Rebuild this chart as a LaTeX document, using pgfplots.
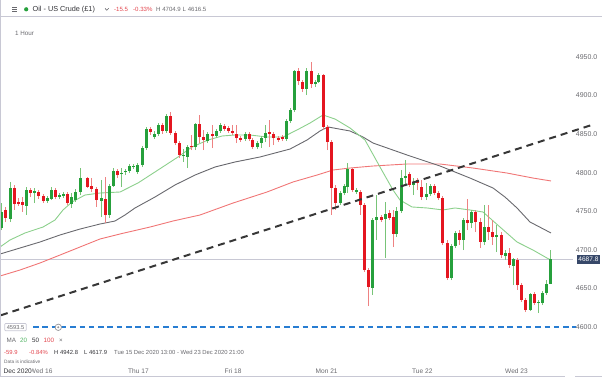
\documentclass[border=0pt]{standalone}
\usepackage{pgfplots}
\pgfplotsset{compat=1.18}
\usepackage{pgfplotstable}
\usepackage{fontspec}
\setmainfont{Liberation Sans}

\definecolor{cgreen}{RGB}{38,160,60}
\definecolor{cgreenw}{RGB}{120,196,120}
\definecolor{cred}{RGB}{228,22,32}
\definecolor{credw}{RGB}{238,130,130}
\definecolor{ma20}{RGB}{140,208,140}
\definecolor{ma50}{RGB}{105,105,110}
\definecolor{ma100}{RGB}{240,118,118}
\definecolor{trend}{RGB}{55,55,55}
\definecolor{bluel}{RGB}{40,125,210}
\definecolor{pricebg}{RGB}{55,72,105}
\definecolor{lbl}{RGB}{105,105,110}
\definecolor{bord}{RGB}{200,200,212}
\definecolor{redtxt}{RGB}{226,70,78}
\definecolor{dark}{RGB}{50,50,55}

% green candles: x open high low close
\pgfplotstableread{
x o h l c
1.5 4728.3 4760.7 4725.7 4749.1
10.5 4740.0 4788.0 4736.1 4780.2
26.5 4756.9 4781.5 4745.2 4777.6
34.5 4773.7 4780.2 4760.7 4776.3
47.5 4763.3 4769.8 4760.7 4767.2
51 4765.9 4781.5 4764.6 4777.6
59 4768.5 4773.7 4765.9 4771.1
63.5 4769.8 4775.0 4767.2 4772.4
71.5 4759.4 4773.7 4754.3 4768.5
75.5 4764.6 4778.9 4762.0 4775.0
80 4775.0 4806.1 4771.1 4793.1
101 4763.3 4790.6 4742.6 4767.2
109 4745.2 4785.4 4741.3 4782.8
113.5 4782.8 4806.1 4781.5 4802.2
121 4798.3 4806.1 4781.5 4799.6
125.5 4800.9 4804.8 4797.0 4802.2
129.5 4802.2 4811.3 4799.6 4808.7
133.5 4807.4 4811.3 4805.0 4808.7
137.5 4800.9 4812.6 4798.3 4810.0
142.5 4810.0 4834.6 4807.4 4832.0
146 4832.0 4859.3 4829.4 4856.7
154 4846.3 4854.1 4843.7 4850.2
158.5 4850.2 4864.4 4847.6 4861.9
166.5 4854.1 4876.1 4851.5 4873.5
183 4821.2 4830.7 4813.9 4822.6
187 4820.4 4835.9 4806.1 4833.3
195.5 4833.3 4864.4 4829.4 4863.2
207.5 4841.1 4852.8 4838.5 4850.2
216 4847.6 4856.7 4845.0 4854.1
220.5 4854.1 4864.4 4851.5 4861.9
245 4843.7 4852.8 4841.1 4850.2
257.5 4833.3 4841.1 4830.7 4838.5
261.5 4838.5 4847.6 4832.0 4845.0
265 4845.0 4861.9 4839.8 4851.5
286 4843.7 4869.6 4841.1 4867.0
290 4867.0 4883.9 4864.4 4881.3
294.5 4881.3 4933.1 4878.7 4931.9
306.5 4908.5 4935.7 4900.7 4931.9
315 4915.0 4920.2 4911.1 4917.6
318.5 4917.6 4929.3 4916.3 4926.7
340 4760.7 4776.3 4758.1 4773.7
344 4773.7 4785.4 4771.1 4782.8
347.5 4781.5 4812.6 4773.7 4804.8
356.5 4775.0 4780.2 4772.4 4777.6
372.5 4650.6 4741.3 4641.5 4738.7
376.5 4738.7 4771.1 4712.8 4742.6
385 4740.0 4762.0 4689.4 4746.5
396.5 4720.6 4755.6 4716.7 4750.4
401 4750.4 4803.5 4747.8 4793.1
405 4793.1 4816.5 4784.1 4795.7
413.5 4784.1 4793.1 4771.1 4788.0
426.5 4768.5 4786.7 4764.6 4772.4
430.5 4772.4 4785.4 4769.8 4782.8
451.5 4663.5 4707.6 4660.9 4705.0
455 4705.0 4724.4 4702.4 4721.9
463.5 4712.8 4741.3 4699.8 4738.7
471.5 4734.8 4751.7 4728.3 4749.1
484 4710.2 4758.1 4706.3 4729.6
496.5 4716.7 4732.2 4697.2 4719.3
505 4692.0 4699.8 4686.9 4695.9
513.5 4679.1 4689.4 4654.4 4688.1
530 4622.0 4644.1 4620.7 4642.8
538.5 4631.1 4635.0 4618.1 4632.4
542.5 4631.1 4646.7 4628.5 4644.1
546.5 4644.1 4660.9 4641.5 4655.7
550.5 4655.7 4699.8 4655.7 4687.8
}\greentab

% red candles: x open high low close
\pgfplotstableread{
x o h l c
5.5 4751.7 4755.6 4736.1 4741.3
14 4780.2 4784.1 4751.7 4759.4
18.5 4762.0 4767.2 4756.9 4759.4
22.5 4762.0 4768.5 4749.1 4758.1
30.5 4777.6 4780.2 4768.5 4773.7
38.5 4775.0 4777.6 4765.9 4769.8
43.5 4769.8 4772.4 4760.7 4763.3
55 4777.6 4780.2 4765.9 4768.5
67.5 4772.4 4775.0 4758.1 4760.7
87.5 4793.1 4794.4 4780.2 4781.5
91.5 4782.8 4793.1 4775.0 4778.9
96.5 4778.9 4781.5 4755.6 4764.6
105 4765.9 4794.4 4734.8 4745.2
117.5 4802.2 4804.8 4793.1 4797.0
150 4856.7 4859.3 4848.9 4852.8
162.5 4861.9 4864.4 4850.2 4854.1
170.5 4873.5 4878.7 4848.9 4851.5
175 4851.5 4854.1 4835.9 4838.5
179 4838.5 4841.1 4819.1 4823.0
191.5 4834.6 4848.9 4829.4 4833.3
199.5 4863.2 4874.8 4838.5 4846.3
203.5 4846.3 4855.4 4829.4 4842.4
212 4850.2 4861.9 4832.0 4847.6
224.5 4860.6 4863.2 4854.1 4856.7
228.5 4858.0 4860.6 4851.5 4854.1
232.5 4854.1 4861.9 4848.9 4851.5
236.5 4850.2 4861.9 4838.5 4845.0
240.5 4845.0 4847.6 4839.8 4842.4
249 4850.2 4852.8 4841.1 4843.7
252.5 4842.4 4845.0 4830.7 4833.3
269.5 4852.8 4868.3 4833.3 4850.2
273.5 4850.2 4852.8 4835.9 4845.0
278.5 4845.0 4847.6 4839.8 4842.4
282.5 4846.3 4848.9 4841.1 4843.7
298.5 4931.9 4935.7 4913.7 4918.9
302.5 4917.6 4920.2 4904.6 4908.5
311 4931.9 4943.5 4909.8 4915.0
323.5 4926.7 4928.0 4855.4 4859.3
327.5 4859.3 4861.9 4829.4 4839.8
331.5 4839.8 4842.4 4745.2 4780.2
335.5 4780.2 4784.1 4751.7 4760.7
352 4804.8 4806.1 4775.0 4777.6
360 4775.0 4777.6 4745.2 4758.1
364 4758.1 4760.7 4671.3 4673.9
368.5 4673.9 4676.5 4627.2 4651.9
381 4742.6 4745.2 4736.1 4738.7
389 4747.8 4751.7 4738.7 4741.3
393 4742.6 4751.7 4703.7 4720.6
409.5 4798.3 4800.9 4781.5 4784.1
417.5 4790.6 4793.1 4777.6 4786.7
421.5 4781.5 4790.6 4764.6 4768.5
434.5 4782.8 4785.4 4771.1 4773.7
438.5 4773.7 4776.3 4764.6 4767.2
442.5 4767.2 4769.8 4706.3 4708.9
447 4708.9 4712.8 4660.9 4663.5
459.5 4721.9 4725.7 4706.3 4712.8
467.5 4738.7 4765.9 4725.7 4734.8
475.5 4749.1 4751.7 4723.1 4736.1
480 4736.1 4741.3 4702.4 4710.2
488.5 4729.6 4758.1 4712.8 4723.1
492.5 4723.1 4738.7 4706.3 4716.7
501 4719.3 4723.1 4689.4 4693.3
509 4695.9 4702.4 4676.5 4680.4
517.5 4686.9 4689.4 4648.0 4654.4
521.5 4654.4 4657.0 4632.4 4635.0
525.5 4635.0 4637.6 4619.4 4622.0
534 4642.8 4645.4 4628.5 4631.1
}\redtab

\begin{document}
\begin{tikzpicture}
\begin{axis}[
  at={(0,0)}, anchor=south west,
  scale only axis, width=602bp, height=377bp,
  xmin=0, xmax=602, ymin=4535.2, ymax=5023.9,
  axis line style={draw=none},
  major tick length=0pt,
  xtick=\empty,
  ytick={4600,4650,4700,4750,4800,4850,4900,4950},
  yticklabels={4600.0,4650.0,4700.0,4750.0,4800.0,4850.0,4900.0,4950.0},
  ytick pos=right,
  yticklabel style={font=\fontsize{7}{8}\selectfont, text=lbl, anchor=east, xshift=-4.5bp, inner sep=0pt},
  clip=false,
  candle/.style={draw=none, mark=none, error bars/.cd, y dir=plus, y explicit, error mark=none},
]
% current price line
\addplot[color=bord, line width=0.9bp, mark=none] coordinates {(0,4687.8) (573,4687.8)};
% horizontal level
\addplot[color=bluel, line width=2.2bp, dash pattern=on 5.5bp off 3.8bp, mark=none] coordinates {(33,4599.5) (576,4599.5)};
% moving averages
\addplot[color=ma100, line width=0.9bp, mark=none] coordinates {
(0,4666.1) (20,4673.9) (40,4683.0) (60,4693.3) (80,4703.7) (100,4714.1) (120,4720.6)
(150,4729.6) (173,4737.4) (200,4745.2) (233,4760.7) (267,4775.0) (293,4788.0)
(317,4797.0) (333,4803.5) (350,4806.1) (373,4808.7) (407,4811.3) (440,4811.3)
(473,4806.1) (507,4799.6) (533,4793.1) (551,4789.3)};
\addplot[color=ma50, line width=0.9bp, mark=none] coordinates {
(0,4694.6) (20,4702.4) (40,4710.2) (60,4719.3) (80,4727.0) (100,4733.5) (115,4737.4)
(125,4745.2) (135,4754.3) (155,4768.5) (175,4784.1) (195,4797.0) (215,4807.4)
(235,4813.9) (260,4820.4) (290,4830.7) (307,4842.4) (320,4854.1) (328,4859.3)
(350,4854.1) (363,4846.3) (373,4838.5) (407,4823.0) (440,4808.7) (450,4803.5)
(470,4793.1) (493,4780.2) (505,4768.5) (517,4754.3) (530,4736.1) (551,4721.9)};
\addplot[color=ma20, line width=0.9bp, mark=none] coordinates {
(0,4703.7) (10,4712.8) (25,4721.9) (43,4729.6) (55,4738.7) (63,4751.7) (72,4762.0)
(85,4771.1) (100,4773.7) (120,4775.0) (138,4786.7) (158,4803.5) (178,4820.4)
(192,4833.3) (208,4842.4) (222,4847.6) (235,4848.9) (250,4848.9) (267,4846.3)
(283,4846.3) (297,4855.4) (310,4864.4) (323,4874.8) (335,4869.6) (350,4858.0)
(365,4842.4) (380,4807.4) (393,4777.6) (400,4764.6) (412,4755.6) (427,4754.3)
(443,4751.7) (455,4754.3) (470,4751.7) (483,4749.1) (500,4729.6) (517,4710.2)
(533,4699.8) (547,4689.4) (551,4686.9)};
% wicks
\addplot[candle, error bar style={draw=cgreenw, line width=0.8bp}]
  table[x=x, y=l, y error plus expr=\thisrow{h}-\thisrow{l}] {\greentab};
\addplot[candle, error bar style={draw=credw, line width=0.8bp}]
  table[x=x, y=l, y error plus expr=\thisrow{h}-\thisrow{l}] {\redtab};
% bodies
\addplot[candle, error bar style={draw=cgreen, line width=3bp}]
  table[x=x, y=o, y error plus expr=\thisrow{c}-\thisrow{o}] {\greentab};
\addplot[candle, error bar style={draw=cred, line width=3bp}]
  table[x=x, y=c, y error plus expr=\thisrow{o}-\thisrow{c}] {\redtab};
% trend line
\addplot[color=trend, line width=2bp, dash pattern=on 7bp off 5bp, mark=none] coordinates {(1,4615.3) (592,4862.0)};
\end{axis}

\begin{scope}[x=1bp, y=-1bp, shift={(0bp,377bp)}]
% frame lines
\draw[bord, line width=0.8bp] (0,16.5) -- (602,16.5);
\draw[bord, line width=1bp] (0.5,0) -- (0.5,377);
\draw[bord, line width=1bp] (0,376.5) -- (565,376.5);
\draw[bord, line width=1bp] (575,376.5) -- (602,376.5);
% header
\draw[lbl, line width=0.6bp] (12,7.2) -- (17,7.2) (12,9.3) -- (17,9.3) (12,11.4) -- (17,11.4);
\fill[cgreen] (26.2,9.3) circle (2.1);
\node[anchor=base west, inner sep=0pt, text=dark, font=\fontsize{7.3}{8}\selectfont] at (32.5,11.8) {Oil - US Crude (£1)};
\draw[lbl, line width=0.6bp] (105,8.3) -- (106.8,10.3) -- (108.6,8.3);
\node[anchor=base west, inner sep=0pt, text=redtxt, font=\fontsize{6.1}{7}\selectfont] at (114,11.6) {-15.5};
\node[anchor=base west, inner sep=0pt, text=redtxt, font=\fontsize{6.1}{7}\selectfont] at (133,11.6) {-0.33\%};
\node[anchor=base west, inner sep=0pt, text=lbl, font=\fontsize{6.1}{7}\selectfont] at (156,11.6) {H 4704.9};
\node[anchor=base west, inner sep=0pt, text=lbl, font=\fontsize{6.1}{7}\selectfont] at (182.5,11.6) {L 4616.5};
\node[anchor=base west, inner sep=0pt, text=lbl, font=\fontsize{6.3}{7}\selectfont] at (15,35.2) {1 Hour};
% level label and icon
\node[draw=bord, fill=white, line width=0.7bp, rounded corners=0.8bp, inner xsep=2bp, inner ysep=1.6bp, text=lbl, font=\fontsize{5.7}{6}\selectfont] at (15.5,327.2) {4593.5};
\draw[lbl!70, fill=white, line width=0.7bp] (58.3,327.3) circle (3.2);
\fill[lbl!70] (58.3,327.3) circle (1.1);
% price label
\node[fill=pricebg, text=white, inner xsep=1.8bp, inner ysep=2bp, font=\fontsize{6.6}{7}\selectfont, anchor=east] at (600.5,259.5) {4687.8};
% MA legend
\node[anchor=base west, inner sep=0pt, text=lbl, font=\fontsize{6.3}{7}\selectfont] at (6.5,342.2) {MA};
\node[anchor=base west, inner sep=0pt, text=cgreen!80, font=\fontsize{6.3}{7}\selectfont] at (20,342.2) {20};
\node[anchor=base west, inner sep=0pt, text=dark, font=\fontsize{6.3}{7}\selectfont] at (32,342.2) {50};
\node[anchor=base west, inner sep=0pt, text=redtxt, font=\fontsize{6.3}{7}\selectfont] at (43.5,342.2) {100};
\node[anchor=base west, inner sep=0pt, text=lbl, font=\fontsize{6.3}{7}\selectfont] at (59,342.2) {×};
% statistics row
\node[anchor=base west, inner sep=0pt, text=redtxt, font=\fontsize{5.9}{6}\selectfont] at (4,354.2) {-59.9};
\node[anchor=base west, inner sep=0pt, text=redtxt, font=\fontsize{5.9}{6}\selectfont] at (29,354.2) {-0.84\%};
\node[anchor=base west, inner sep=0pt, text=dark, font=\fontsize{5.9}{6}\selectfont] at (54,354.2) {H 4942.8};
\node[anchor=base west, inner sep=0pt, text=dark, font=\fontsize{5.9}{6}\selectfont] at (84,354.2) {L 4617.9};
\node[anchor=base west, inner sep=0pt, text=lbl, font=\fontsize{5.9}{6}\selectfont] at (114,354.2) {Tue 15 Dec 2020 13:00 - Wed 23 Dec 2020 21:00};
\node[anchor=base west, inner sep=0pt, text=lbl, font=\fontsize{4.8}{5}\selectfont] at (4,363.6) {Data is indicative};
% date axis
\node[anchor=base west, inner sep=0pt, text=lbl, font=\fontsize{6.6}{7}\selectfont] at (29.8,373.5) {Wed 16};
\node[anchor=base west, inner xsep=0pt, inner ysep=0pt, fill=white, text=dark, font=\fontsize{6.6}{7}\selectfont] at (3.5,373.5) {Dec 2020\hspace{1.2bp}};
\node[anchor=base west, inner sep=0pt, text=lbl, font=\fontsize{6.6}{7}\selectfont] at (128,373.5) {Thu 17};
\node[anchor=base west, inner sep=0pt, text=lbl, font=\fontsize{6.6}{7}\selectfont] at (224.5,373.5) {Fri 18};
\node[anchor=base west, inner sep=0pt, text=lbl, font=\fontsize{6.6}{7}\selectfont] at (315.5,373.5) {Mon 21};
\node[anchor=base west, inner sep=0pt, text=lbl, font=\fontsize{6.6}{7}\selectfont] at (412,373.5) {Tue 22};
\node[anchor=base west, inner sep=0pt, text=lbl, font=\fontsize{6.6}{7}\selectfont] at (505,373.5) {Wed 23};
\end{scope}
\pgfresetboundingbox
\path[use as bounding box] (0,0) rectangle (602bp,377bp);
\end{tikzpicture}
\end{document}
